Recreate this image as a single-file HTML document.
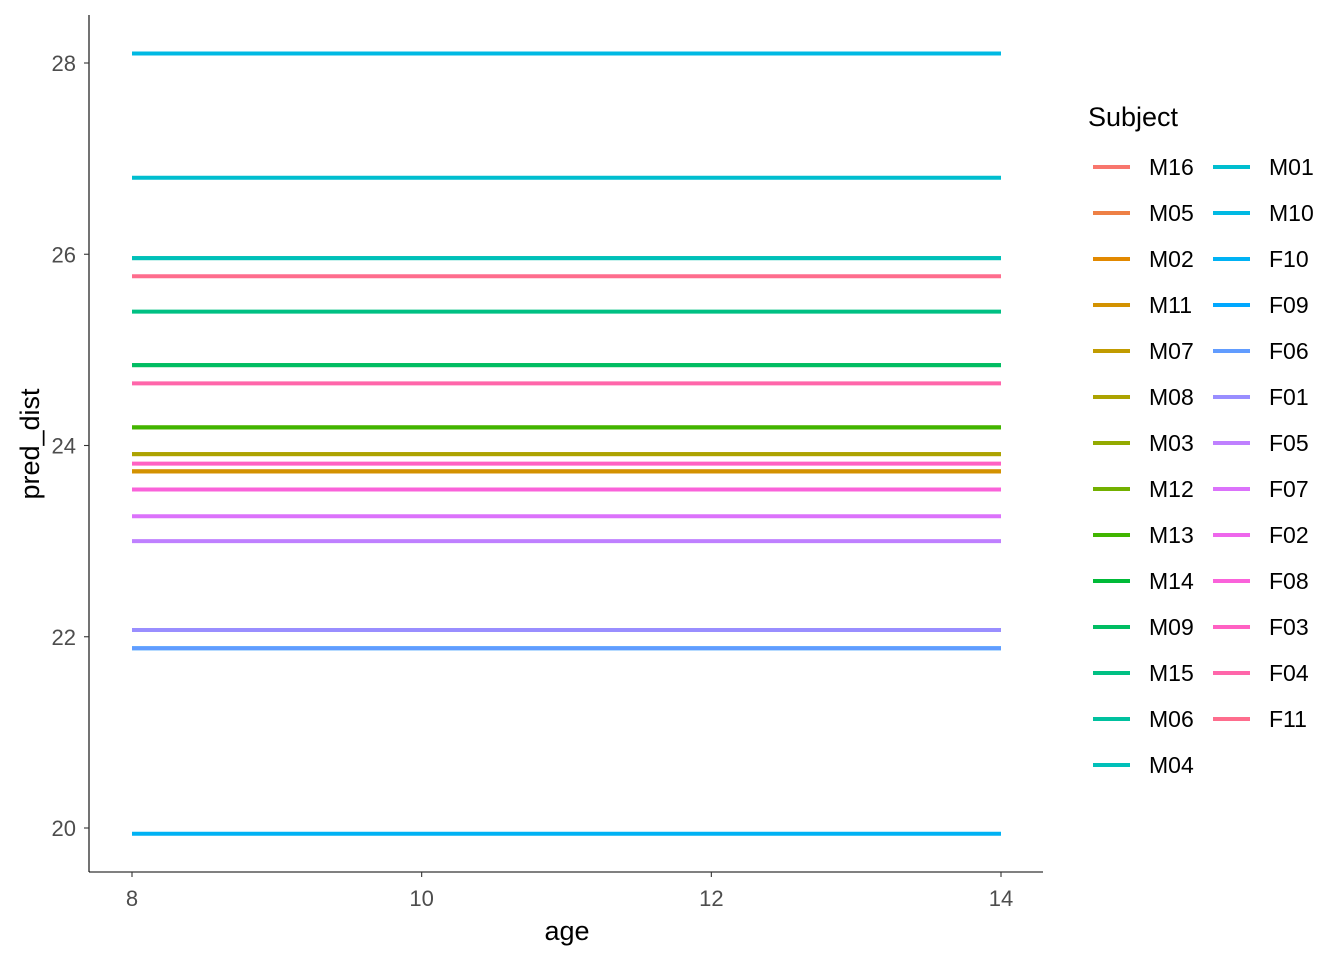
<!DOCTYPE html>
<html><head><meta charset="utf-8"><style>
body{margin:0;background:#fff}
svg text{font-family:"Liberation Sans",Arial,sans-serif}
</style></head><body>
<svg id="c" width="1344" height="960" xmlns="http://www.w3.org/2000/svg"></svg>
<script>
const subjects=["M16","M05","M02","M11","M07","M08","M03","M12","M13","M14","M09","M15","M06","M04","M01","M10","F10","F09","F06","F01","F05","F07","F02","F08","F03","F04","F11"];
const predValues=[23.73,23.73,23.73,23.73,23.91,23.91,24.19,24.19,24.19,24.84,24.84,25.40,25.96,25.96,26.80,28.10,19.94,21.88,21.88,22.07,23.00,23.26,23.54,23.54,23.81,24.65,25.77];
const ageRange=[8,14];
const xTicks=[8,10,12,14];
const yTicks=[20,22,24,26,28];
const NS="http://www.w3.org/2000/svg";
const svg=document.getElementById('c');
const X=v=>132+(v-8)*(1001-132)/6;
const Y=v=>828-(v-20)*(828-63)/8;
function mk(t,a,p){const e=document.createElementNS(NS,t);for(const k in a)e.setAttribute(k,a[k]);(p||svg).appendChild(e);return e;}
function hcl(h,c,l){const L=l;const u=c*Math.cos(h*Math.PI/180),v=c*Math.sin(h*Math.PI/180);
const un=0.19783000664283,vn=0.46831999493879;
const Yv=L>8?Math.pow((L+16)/116,3):L/903.3;const up=u/(13*L)+un,vp=v/(13*L)+vn;
const Xv=9*Yv*up/(4*vp),Zv=-Xv/3-5*Yv+3*Yv/vp;
let r=3.240479*Xv-1.53715*Yv-0.498535*Zv,g=-0.969256*Xv+1.875992*Yv+0.041556*Zv,b=0.055648*Xv-0.204043*Yv+1.057311*Zv;
const gm=x=>{x=x<=0.0031308?12.92*x:1.055*Math.pow(x,1/2.4)-0.055;return Math.round(Math.max(0,Math.min(1,x))*255);};
return `rgb(${gm(r)},${gm(g)},${gm(b)})`;}
const n=subjects.length;
const cols=subjects.map((s,i)=>hcl(15+360*i/n,100,65));
const ya=mk('line',{x1:89,y1:15,x2:89,y2:872,stroke:'#000','stroke-width':1.1});

const xa=mk('line',{x1:89,y1:872,x2:1043,y2:872,stroke:'#000','stroke-width':1.1});

yTicks.forEach(t=>{mk('line',{x1:84,x2:89,y1:Y(t),y2:Y(t),stroke:'#333','stroke-width':1.1});
const tx=mk('text',{x:76,y:Y(t)+8,'text-anchor':'end','font-size':22,fill:'#4d4d4d'});tx.textContent=t;
});
xTicks.forEach(t=>{mk('line',{x1:X(t),x2:X(t),y1:872,y2:877,stroke:'#333','stroke-width':1.1});
const tx=mk('text',{x:X(t),y:906,'text-anchor':'middle','font-size':22,fill:'#4d4d4d'});tx.textContent=t;
});
const xt=mk('text',{x:567,y:940,'text-anchor':'middle','font-size':27});xt.textContent='age';

const yt=mk('text',{x:39,y:444,'text-anchor':'middle','font-size':27,transform:'rotate(-90 39 444)'});yt.textContent='pred_dist';

subjects.forEach((s,i)=>{const l=mk('line',{x1:X(ageRange[0]),x2:X(ageRange[1]),y1:Y(predValues[i]),y2:Y(predValues[i]),stroke:cols[i],'stroke-width':4});
});
const lt=mk('text',{x:1088,y:126,'font-size':27});lt.textContent='Subject';

subjects.forEach((s,i)=>{const c=i<14?0:1,r=i<14?i:i-14;const x0=1093+c*120,y0=167+r*46;
const g=mk('g',{});
mk('line',{x1:x0,x2:x0+37,y1:y0,y2:y0,stroke:cols[i],'stroke-width':4},g);
const t=mk('text',{x:x0+56,y:y0+8,'font-size':23},g);t.textContent=s;});
</script>
</body></html>
